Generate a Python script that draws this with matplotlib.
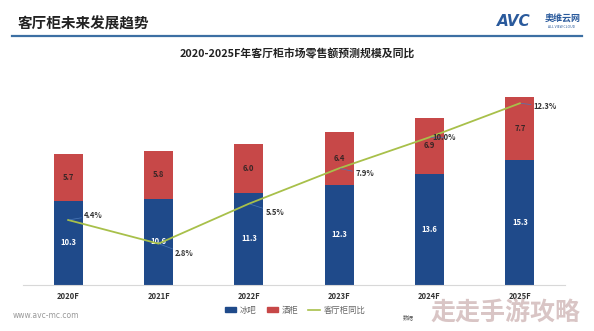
import matplotlib
matplotlib.use("Agg")
import matplotlib.pyplot as plt
from matplotlib.patches import Patch
from matplotlib.lines import Line2D

plt.rcParams['font.family'] = ['Noto Sans CJK SC', 'DejaVu Sans']

categories = ["2020F", "2021F", "2022F", "2023F", "2024F", "2025F"]
ice_bar = [10.3, 10.6, 11.3, 12.3, 13.6, 15.3]      # 冰吧
wine_cab = [5.7, 5.8, 6.0, 6.4, 6.9, 7.7]           # 酒柜
yoy = [4.4, 2.8, 5.5, 7.9, 10.0, 12.3]              # 客厅柜同比 (%)
yoy_labels = ["4.4%", "2.8%", "5.5%", "7.9%", "10.0%", "12.3%"]

BLUE = "#1f4a8a"
RED = "#c74848"
GREEN = "#a8c04a"

W, H = 594, 331
fig = plt.figure(figsize=(W / 100, H / 100), dpi=100)
fig.patch.set_facecolor("white")

# header
fig.text(18 / W, 1 - 24 / H, "客厅柜未来发展趋势", fontsize=10.5, fontweight="bold",
         color="#222222", ha="left", va="center")
fig.add_artist(Line2D([12 / W, 582 / W], [1 - 36 / H, 1 - 36 / H], color="#3c6fa3",
                      lw=1.6, transform=fig.transFigure))
fig.text(497 / W, 1 - 22 / H, "AVC", fontsize=11, fontweight="bold", style="italic",
         color="#2a5a9c", ha="left", va="center", family=["DejaVu Sans"])
fig.text(545 / W, 1 - 19 / H, "奥维云网", fontsize=6.5, fontweight="bold",
         color="#2a5a9c", ha="left", va="center")
fig.text(562 / W, 1 - 27 / H, "ALL VIEW CLOUD", fontsize=2.5,
         color="#2a5a9c", ha="center", va="center")

fig.text(0.5, 1 - 54 / H, "2020-2025F年客厅柜市场零售额预测规模及同比", fontsize=7.8,
         fontweight="bold", color="#222222", ha="center", va="center")

ax = fig.add_axes([23 / W, 1 - 285 / H, 542 / W, 195 / H])
x = list(range(len(categories)))
ax.bar(x, ice_bar, width=0.32, color=BLUE, zorder=2)
ax.bar(x, wine_cab, width=0.32, bottom=ice_bar, color=RED, zorder=2)
ax.set_xlim(-0.5, 5.5)
ax.set_ylim(0, 23.9)
for i in x:
    ax.text(i, ice_bar[i] / 2, f"{ice_bar[i]:.1f}", ha="center", va="center",
            color="white", fontsize=5.5, fontweight="bold", zorder=4)
    ax.text(i, ice_bar[i] + wine_cab[i] / 2, f"{wine_cab[i]:.1f}", ha="center",
            va="center", color="#3a2626", fontsize=5.5, fontweight="bold", zorder=4)

for s in ["top", "right", "left"]:
    ax.spines[s].set_visible(False)
ax.spines["bottom"].set_color("#d8d8d8")
ax.spines["bottom"].set_linewidth(0.8)
ax.set_yticks([])
ax.set_xticks(x)
ax.set_xticklabels(categories, fontsize=5.5, fontweight="bold", color="#333333")
ax.tick_params(axis="x", length=0, pad=5)
ax.set_facecolor("none")

ax2 = ax.twinx()
ax2.set_ylim(0, 13.2)
ax2.plot(x, yoy, color=GREEN, lw=1.3, zorder=3)
ax2.set_yticks([])
for s in ax2.spines.values():
    s.set_visible(False)

offsets = [(11.5, 3), (12, -7), (12, -6), (11.5, -4), (2, 0), (10, -2)]
for i in x:
    ax2.annotate(yoy_labels[i], xy=(i, yoy[i]), xytext=offsets[i], textcoords="offset points",
                 ha="left", va="center", fontsize=5.5, fontweight="bold", color="#333333",
                 arrowprops=dict(arrowstyle="-", color="#4a78b8", lw=0.5,
                                 shrinkA=0, shrinkB=1), zorder=5)

handles = [Patch(color=BLUE, label="冰吧"), Patch(color=RED, label="酒柜"),
           Line2D([0], [0], color=GREEN, lw=1.2, label="客厅柜同比")]
fig.legend(handles=handles, loc="center", bbox_to_anchor=(295 / W, 1 - 310 / H), ncol=3,
           frameon=False, fontsize=6, handlelength=1.4, handleheight=0.5,
           handletextpad=0.4, columnspacing=1.2, labelcolor="#666666")

fig.text(13 / W, 1 - 316 / H, "www.avc-mc.com", fontsize=5.5, color="#999999",
         ha="left", va="center", family=["DejaVu Sans"])
fig.text(403 / W, 1 - 317 / H, "数据", fontsize=4, color="#555555", ha="left", va="center")
fig.text(505 / W, 1 - 314 / H, "走走手游攻略", fontsize=18, fontweight="bold",
         color="#d7c2c2", alpha=0.95, ha="center", va="center", zorder=10)

fig.savefig("out.png", dpi=100, facecolor="white")
